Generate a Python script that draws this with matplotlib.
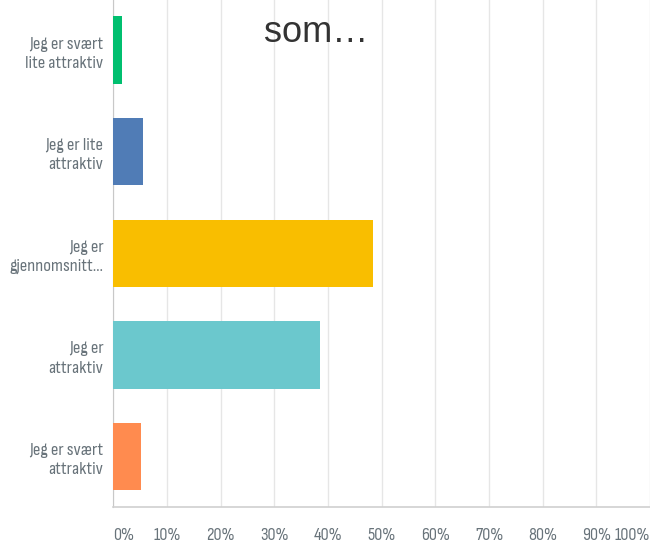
import matplotlib
matplotlib.use("Agg")
import matplotlib.pyplot as plt

categories = [
    "Jeg er svært\nlite attraktiv",
    "Jeg er lite\nattraktiv",
    "Jeg er\ngjennomsnitt…",
    "Jeg er\nattraktiv",
    "Jeg er svært\nattraktiv",
]
values = [1.6, 5.6, 48.4, 38.5, 5.1]
colors = ["#00BF6F", "#507CB6", "#F9BE00", "#6BC8CD", "#FF8B4F"]
xticks = list(range(0, 101, 10))
xtick_labels = [f"{t}%" for t in xticks]

label_font = ["Sofia Sans Condensed", "DejaVu Sans"]
label_color = "#68737a"

fig = plt.figure(figsize=(6.5, 5.42), dpi=100)
ax = fig.add_axes([113.3 / 650, 34.7 / 542, 536.8 / 650, 508 / 542])

ypos = list(range(len(categories)))
ax.barh(ypos, values, height=0.664, color=colors, zorder=3)
ax.set_ylim(len(categories) - 0.5, -0.5)
ax.set_xlim(0, 100)

ax.set_yticks(ypos)
ax.set_yticklabels(categories, family=label_font, fontsize=13.5,
                   color=label_color, linespacing=1.35, ha="right")
ax.set_xticks(xticks)
ax.set_xticklabels(xtick_labels, family=label_font, fontsize=13, color=label_color)
xt = ax.get_xticklabels()
xt[0].set_ha("left")
xt[-1].set_ha("right")
ax.tick_params(axis="y", length=0, pad=7)
ax.tick_params(axis="x", length=0, pad=15)

ax.grid(axis="x", color="#e6e6e6", linewidth=1, zorder=0)
ax.grid(axis="y", visible=False)
for s in ["top", "right"]:
    ax.spines[s].set_visible(False)
ax.spines["left"].set_color("#c8c8c8")
ax.spines["bottom"].set_color("#d0d0d0")
ax.spines["bottom"].set_linewidth(1.2)

fig.text(316.5 / 650, 1 - 41.5 / 542, "som…", fontsize=26, color="#333333",
         family="Liberation Sans", ha="center", va="baseline")

fig.savefig("out.png", dpi=100)
plt.close(fig)
